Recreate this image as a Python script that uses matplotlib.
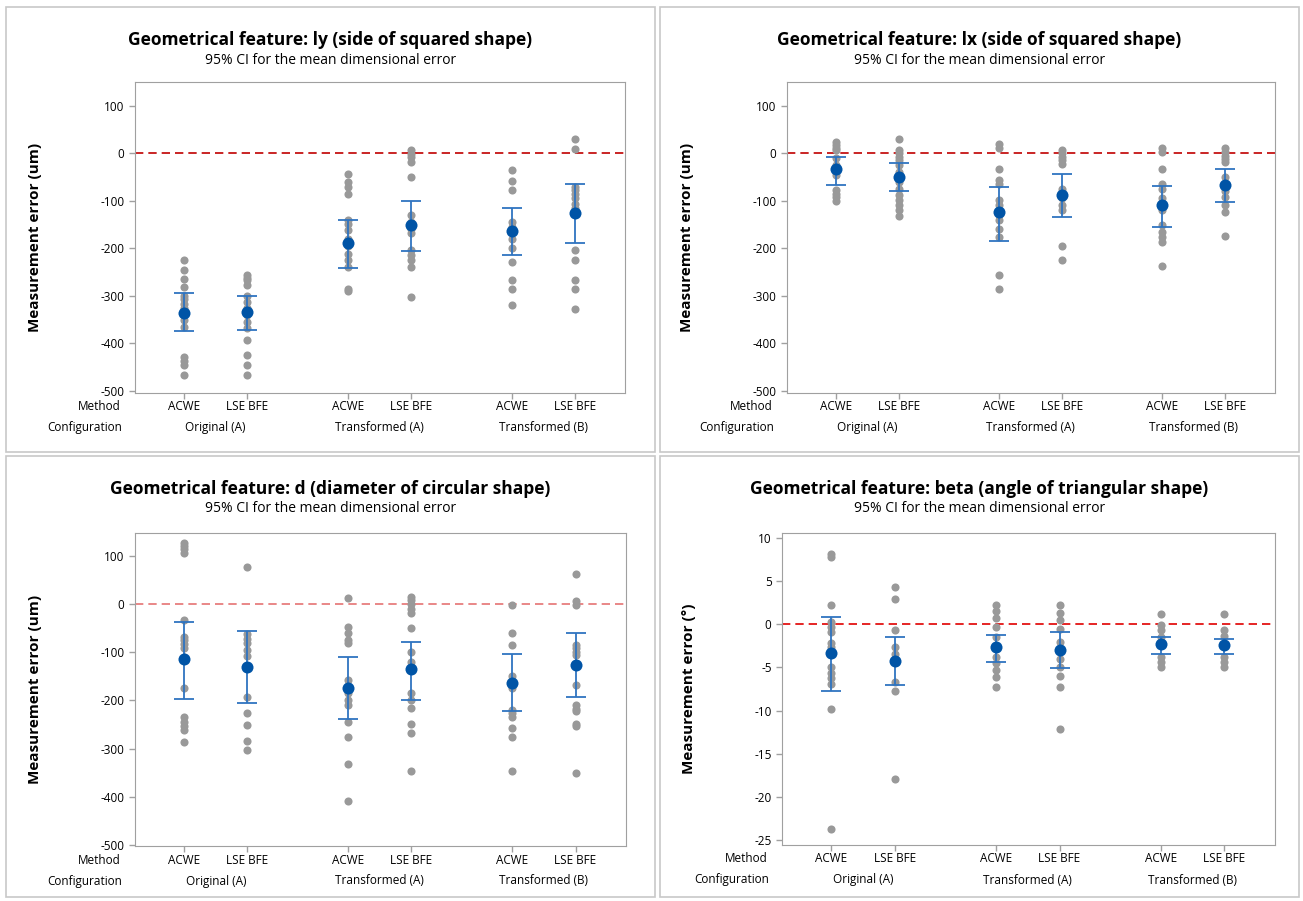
import numpy as np
import matplotlib
matplotlib.use("Agg")
import matplotlib.pyplot as plt
from matplotlib import transforms
from matplotlib.patches import Rectangle

plt.rcParams['font.family'] = ['Open Sans', 'DejaVu Sans']
plt.rcParams['axes.unicode_minus'] = False

methods = ['ACWE', 'LSE BFE', 'ACWE', 'LSE BFE', 'ACWE', 'LSE BFE']
configs = ['Original (A)', 'Transformed (A)', 'Transformed (B)']
xpos = [0, 1, 2.6, 3.6, 5.2, 6.2]

# ly (side of squared shape)
ly_points = [
    [-225, -246, -264, -281, -300, -308, -318, -327, -340, -352, -365, -429, -437, -446, -467],
    [-257, -262, -267, -278, -300, -313, -325, -340, -355, -369, -394, -424, -446, -467],
    [-43, -60, -71, -85, -141, -150, -162, -180, -195, -212, -225, -239, -286, -290],
    [6, -1, -8, -18, -51, -131, -145, -160, -169, -204, -215, -225, -239, -302],
    [-36, -58, -78, -145, -155, -165, -180, -199, -229, -267, -285, -319],
    [29, 8, -71, -78, -85, -95, -106, -115, -204, -225, -267, -285, -329],
]
ly_mean = [-336, -334, -189, -152, -164, -126]
ly_lo = [-375, -373, -241, -206, -215, -189]
ly_hi = [-295, -300, -141, -100, -116, -65]

# lx (side of squared shape)
lx_points = [
    [24, 18, 12, 6, -10, -25, -34, -45, -78, -85, -92, -100],
    [29, 6, 0, -8, -15, -25, -40, -60, -75, -88, -98, -109, -120, -133],
    [20, 10, -34, -57, -65, -99, -110, -130, -140, -159, -176, -257, -287],
    [6, 0, -8, -15, -22, -75, -95, -109, -120, -196, -224],
    [10, 3, -34, -64, -75, -95, -120, -152, -165, -176, -187, -238],
    [10, 3, -5, -12, -18, -50, -80, -92, -108, -124, -174],
]
lx_mean = [-34, -51, -124, -88, -109, -66]
lx_lo = [-66, -79, -185, -135, -155, -103]
lx_hi = [-8, -20, -71, -44, -69, -34]

# d (diameter of circular shape)
d_points = [
    [126, 120, 113, 106, -33, -68, -75, -84, -92, -110, -175, -234, -244, -253, -261, -286],
    [76, -62, -72, -82, -95, -108, -130, -194, -227, -251, -284, -303],
    [12, -47, -61, -75, -81, -158, -170, -185, -200, -210, -244, -277, -331, -408],
    [15, 8, 0, -10, -19, -49, -99, -120, -185, -199, -216, -248, -267, -346],
    [-2, -61, -86, -150, -175, -220, -227, -234, -258, -275, -346],
    [62, 5, -2, -85, -92, -99, -106, -168, -210, -217, -223, -248, -254, -350],
]
d_mean = [-114, -131, -175, -135, -163, -127]
d_lo = [-197, -205, -239, -199, -223, -194]
d_hi = [-37, -57, -111, -78, -104, -60]

# beta (angle of triangular shape)
beta_points = [
    [8.2, 7.8, 2.3, 0.3, -0.3, -0.9, -2.2, -2.6, -5.0, -5.6, -6.2, -6.9, -9.8, -23.8],
    [4.3, 3.0, -0.7, -2.6, -3.4, -6.7, -7.7, -17.9],
    [2.3, 1.5, 0.7, -0.3, -1.5, -3.8, -4.5, -5.3, -6.1, -7.3],
    [2.3, 1.3, 0.5, -0.5, -2.0, -4.0, -5.0, -6.0, -7.3, -12.1],
    [1.2, -0.1, -0.7, -1.5, -3.8, -4.4, -5.0],
    [1.2, -0.7, -1.3, -3.8, -4.4, -5.0],
]
beta_mean = [-3.3, -4.3, -2.6, -3.0, -2.3, -2.4]
beta_lo = [-7.7, -7.0, -4.4, -5.1, -3.4, -3.4]
beta_hi = [0.85, -1.5, -1.2, -0.9, -1.5, -1.7]

W, H = 1303, 901
fig = plt.figure(figsize=(W / 100, H / 100), dpi=100)


def rect(l, t, r, b):
    return [l / W, 1 - b / H, (r - l) / W, (b - t) / H]


def panel(box, axbox, title, ylabel, pts, mean, lo, hi, yticks, ylim, refcol):
    l, t, r, b = box
    fig.patches.append(Rectangle((l / W, 1 - b / H), (r - l) / W, (b - t) / H,
                                 transform=fig.transFigure, fill=False,
                                 edgecolor='#c8c8c8', lw=1.2))
    cx = (l + r) / 2 / W
    fig.text(cx, 1 - (t + 33) / H, title, ha='center', va='center',
             fontsize=12.5, fontweight='bold')
    fig.text(cx, 1 - (t + 53) / H, '95% CI for the mean dimensional error',
             ha='center', va='center', fontsize=10)

    ax = fig.add_axes(rect(*axbox))
    for x, p in zip(xpos, pts):
        ax.scatter([x] * len(p), p, s=34, color='#999999', zorder=2, lw=0)
    ax.errorbar(xpos, mean, yerr=[np.array(mean) - np.array(lo), np.array(hi) - np.array(mean)],
                fmt='none', ecolor='#2f74c0', elinewidth=1.3, capsize=7, capthick=1.3, zorder=3)
    ax.scatter(xpos, mean, s=75, color='#0054a6', zorder=4, lw=0)
    ax.axhline(0, color=refcol, ls=(0, (5, 3)), lw=1.2, zorder=1)

    ax.set_xlim(-0.78, 7.0)
    ax.set_ylim(*ylim)
    ax.set_yticks(yticks)
    ax.set_yticklabels([str(v) for v in yticks])
    ax.set_xticks(xpos)
    ax.set_xticklabels([])
    ax.tick_params(axis='both', colors='#a0a0a0', length=4, labelsize=8.5,
                   labelcolor='black', width=1)
    for s in ax.spines.values():
        s.set_color('#a0a0a0')
    ax.set_ylabel(ylabel, fontsize=11, fontweight='bold', labelpad=42)

    tm = transforms.offset_copy(ax.get_xaxis_transform(), fig, y=-14, units='dots')
    tc = transforms.offset_copy(ax.get_xaxis_transform(), fig, y=-35, units='dots')
    for x, m in zip(xpos, methods):
        ax.text(x, 0, m, transform=tm, ha='center', va='center', fontsize=8.5)
    for i, c in enumerate(configs):
        ax.text((xpos[2 * i] + xpos[2 * i + 1]) / 2, 0, c, transform=tc,
                ha='center', va='center', fontsize=8.5)
    ax.text(-0.03, 0, 'Method', transform=transforms.offset_copy(ax.transAxes, fig, y=-14, units='dots'),
            ha='right', va='center', fontsize=8.5)
    ax.text(-0.027, 0, 'Configuration', transform=transforms.offset_copy(ax.transAxes, fig, y=-35, units='dots'),
            ha='right', va='center', fontsize=8.5)
    return ax


um_ticks = [100, 0, -100, -200, -300, -400, -500]
panel((6, 7, 655, 452), (135, 82, 625, 393),
      'Geometrical feature: ly (side of squared shape)', 'Measurement error (um)',
      ly_points, ly_mean, ly_lo, ly_hi, um_ticks, (-505, 150), '#c00000')
panel((660, 7, 1299, 452), (787, 82, 1275, 393),
      'Geometrical feature: lx (side of squared shape)', 'Measurement error (um)',
      lx_points, lx_mean, lx_lo, lx_hi, um_ticks, (-505, 150), '#c00000')
panel((6, 456, 655, 897), (135, 533, 626, 846),
      'Geometrical feature: d (diameter of circular shape)', 'Measurement error (um)',
      d_points, d_mean, d_lo, d_hi, um_ticks, (-502, 147), '#e57373')
panel((660, 456, 1299, 897), (782, 533, 1275, 845),
      'Geometrical feature: beta (angle of triangular shape)', 'Measurement error (°)',
      beta_points, beta_mean, beta_lo, beta_hi, [10, 5, 0, -5, -10, -15, -20, -25],
      (-25.6, 10.6), '#e00000')

fig.savefig('out.png', dpi=100)
